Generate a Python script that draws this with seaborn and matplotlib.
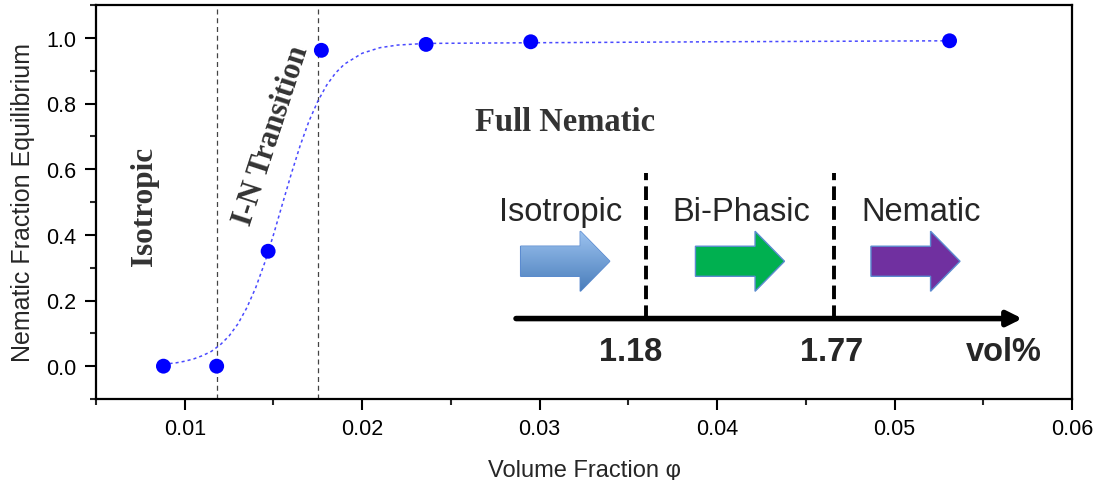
import numpy as np
import matplotlib
matplotlib.use('Agg')
import matplotlib.pyplot as plt
import matplotlib.patches as mpatches
import seaborn as sns

# DATA
phi = [0.0088, 0.0118, 0.0147, 0.0177, 0.0236, 0.0295, 0.0531]
nematic_frac = [0.0, 0.0, 0.35, 0.962, 0.980, 0.988, 0.991]

# fitted curve
fit_phi = [0.0088, 0.0095, 0.0100, 0.0105, 0.0110, 0.0115, 0.0120, 0.0125,
           0.0130, 0.0135, 0.0140, 0.0145, 0.0150, 0.0155, 0.0160, 0.0165,
           0.0170, 0.0175, 0.0180, 0.0185, 0.0190, 0.0200, 0.0210, 0.0220,
           0.0236, 0.0295, 0.0400, 0.0531]
fit_frac = [0.006, 0.010, 0.015, 0.022, 0.032, 0.045, 0.065, 0.092,
            0.129, 0.178, 0.239, 0.314, 0.400, 0.493, 0.585, 0.671,
            0.746, 0.807, 0.856, 0.893, 0.920, 0.953, 0.970, 0.978,
            0.983, 0.985, 0.988, 0.991]

# phase boundaries (dashed lines)
boundaries = [0.0118, 0.0175]

# inset schematic
inset_phases = ['Isotropic', 'Bi-Phasic', 'Nematic']
inset_vol = ['1.18', '1.77', 'vol%']
inset_colors = ['#7aa6e0', '#00b050', '#7030a0']

x_ticks = [0.01, 0.02, 0.03, 0.04, 0.05, 0.06]
y_ticks = [0.0, 0.2, 0.4, 0.6, 0.8, 1.0]

sns.set_style('ticks')
plt.rcParams['font.family'] = ['Liberation Sans', 'DejaVu Sans']

fig = plt.figure(figsize=(11.03, 4.81), dpi=100)
ax = fig.add_axes([96 / 1103, 81 / 481, 976 / 1103, 394 / 481])

# dashed boundaries
for b in boundaries:
    ax.axvline(b, color='#444444', lw=0.9, dashes=(4, 3), zorder=1)

# fit curve
sns.lineplot(x=fit_phi, y=fit_frac, ax=ax, color='#4a4aff',
             linewidth=1.1, sort=False, estimator=None, zorder=2)
ax.lines[-1].set_dashes([2, 2])

# data points
sns.scatterplot(x=phi, y=nematic_frac, ax=ax, color='#0000ff',
                s=115, edgecolor='none', zorder=3)

ax.set_xlim(0.005, 0.06)
ax.set_ylim(-0.1, 1.1)
ax.set_xticks(x_ticks)
ax.set_xticklabels([f'{v:.2f}' for v in x_ticks])
ax.set_yticks(y_ticks)
ax.set_yticklabels([f'{v:.1f}' for v in y_ticks])
ax.set_xticks(np.arange(0.005, 0.061, 0.005), minor=True)
ax.set_yticks(np.arange(-0.1, 1.11, 0.1), minor=True)

ax.tick_params(which='major', length=8, width=1.5, labelsize=15.5,
               colors='black', pad=6)
ax.tick_params(which='minor', length=4.5, width=1.5)
for s in ax.spines.values():
    s.set_linewidth(1.6)
    s.set_color('black')

ax.set_xlabel('Volume Fraction φ', fontsize=17, labelpad=14)
ax.set_ylabel('Nematic Fraction Equilibrium', fontsize=18, labelpad=8)

# serif region labels
serif = ['Liberation Serif', 'DejaVu Serif']
ax.text(0.00771, 0.49, 'Isotropic', rotation=90, ha='center', va='center',
        fontsize=22.5, fontweight='bold', family=serif, color='#333333')
ax.text(0.01489, 0.704, 'I-N Transition', rotation=72, ha='center', va='center',
        fontsize=22, fontweight='bold', family=serif, color='#333333',
        rotation_mode='anchor')
ax.text(0.03144, 0.745, 'Full Nematic', ha='center', va='center',
        fontsize=23.5, fontweight='bold', family=serif, color='#333333')

# inset schematic
axis_y = 0.145
ax.annotate('', xy=(0.0572, axis_y), xytext=(0.02867, axis_y),
            arrowprops=dict(arrowstyle='-|>', lw=4, color='black',
                            mutation_scale=22, shrinkA=0, shrinkB=0))
for xd in [0.0360, 0.0466]:
    ax.plot([xd, xd], [axis_y, 0.588], color='black', lw=2.8,
            dashes=(3.5, 1.6), solid_capstyle='butt')

text_x = [0.03116, 0.04138, 0.0515]
arrow_x = [0.02893, 0.03878, 0.04867]
for lab, tx, axx, col in zip(inset_phases, text_x, arrow_x, inset_colors):
    ax.text(tx, 0.47, lab, ha='center', va='center', fontsize=23.5)
    arr = mpatches.FancyArrow(axx, 0.3195, 0.00502, 0, width=0.0916,
                              head_width=0.183, head_length=0.00166,
                              length_includes_head=True, facecolor=col,
                              edgecolor='#5b8bd0', lw=1, zorder=3)
    ax.add_patch(arr)
    if col == '#7aa6e0':
        grad = np.linspace(0, 1, 100).reshape(-1, 1)
        cmap = matplotlib.colors.LinearSegmentedColormap.from_list(
            'b', ['#4a7ebb', '#9dc3f0'])
        im = ax.imshow(grad, extent=(axx, axx + 0.00502, 0.3195 - 0.0916,
                                     0.3195 + 0.0916),
                       origin='lower', cmap=cmap, aspect='auto', zorder=3.5)
        im.set_clip_path(arr)

vol_x = [0.03511, 0.04647, 0.05613]
for lab, vx in zip(inset_vol, vol_x):
    ax.text(vx, 0.045, lab, ha='center', va='center', fontsize=23.5,
            fontweight='bold')

ax.set_xlim(0.005, 0.06)
ax.set_ylim(-0.1, 1.1)

fig.savefig('out.png', dpi=100)
